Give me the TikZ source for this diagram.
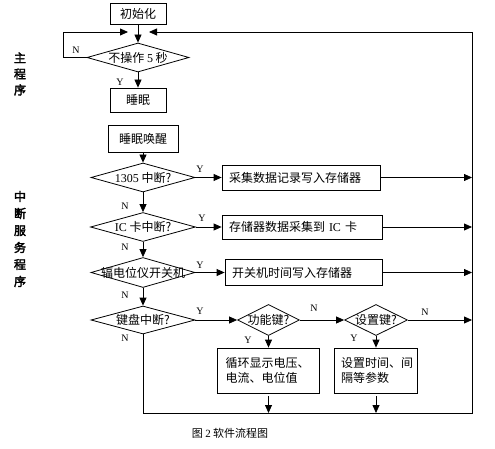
\documentclass[tikz,border=0pt]{standalone}
\usepackage{fontspec}
\setmainfont{Liberation Serif}
\newfontfamily\cjk{Noto Sans CJK SC}
\newfontfamily\cjkb[FakeBold=3]{Noto Sans CJK SC}
\usetikzlibrary{shapes.geometric,arrows.meta}
\newcommand{\dtxt}[1]{\makebox[0pt]{#1}}
\begin{document}
\begin{tikzpicture}[x=1pt,y=-1pt,line width=0.8pt,
  arr/.style={-{Triangle[length=8pt,width=7pt]}},
  box/.style={draw,font=\cjk\fontsize{12}{15}\selectfont,inner xsep=7pt,inner ysep=0pt,align=left},
  dia/.style={draw,diamond,inner sep=0pt,font=\cjk\fontsize{12}{14}\selectfont},
  yn/.style={font=\fontsize{10}{11}\selectfont,inner sep=0pt},
  side/.style={font=\cjkb\fontsize{12}{17}\selectfont,align=center}]
\useasboundingbox (0,0) rectangle (495,449);
% main program
\node[box,minimum width=56pt,minimum height=21pt] (init) at (138,13.5) {初始化};
\node[dia,minimum width=102pt,minimum height=29pt] (idle) at (138,57.5) {\dtxt{不操作 {\rmfamily 5} 秒}};
\node[box,minimum width=56pt,minimum height=24pt] (sleep) at (138,100) {睡眠};
\node[side,font=\cjkb\fontsize{12}{16}\selectfont] (smain) at (20,74) {主\\程\\序};
% interrupt service
\node[box,minimum width=70pt,minimum height=27pt] (wake) at (143,138.5) {睡眠唤醒};
\node[dia,minimum width=104pt,minimum height=29pt] (irq) at (143,177.5) {\dtxt{{\rmfamily 1305} 中断?}};
\node[dia,minimum width=105pt,minimum height=29pt] (card) at (143,227) {\dtxt{{\rmfamily IC} 卡中断?}};
\node[dia,minimum width=104pt,minimum height=30pt] (pwr) at (143,272.5) {\dtxt{辐电位仪开关机}};
\node[dia,minimum width=104pt,minimum height=28pt] (key) at (143,320) {\dtxt{键盘中断?}};
\node[dia,minimum width=62pt,minimum height=31pt] (fkey) at (268.5,320) {\dtxt{功能键?}};
\node[dia,minimum width=63pt,minimum height=31pt] (skey) at (376,320) {\dtxt{设置键?}};
\node[box,text width=144pt,minimum height=25pt] (acq) at (301,177.5) {采集数据记录写入存储器};
\node[box,text width=146pt,minimum height=24pt] (dump) at (302,227) {存储器数据采集到 {\rmfamily IC} 卡};
\node[box,text width=143pt,minimum height=26pt] (log) at (303.5,272.5) {开关机时间写入存储器};
\node[box,text width=86pt,minimum height=45pt,inner xsep=8pt] (disp) at (268.5,370.5) {循环显示电压、\\电流、电位值};
\node[box,text width=70pt,minimum height=45pt,inner xsep=6.5pt] (setp) at (376,370.5) {设置时间、间\\隔等参数};
\node[side] (sirq) at (20,239) {中\\断\\服\\务\\程\\序};
\node[font=\cjk\fontsize{11}{13}\selectfont] (cap) at (230,433) {图 {\rmfamily 2} 软件流程图};
% Y / N
\node[yn] (n0) at (76,50) {N};
\node[yn] (y0) at (120,82) {Y};
\node[yn] (y1) at (200,169) {Y};
\node[yn] (n1) at (125,206) {N};
\node[yn] (y2) at (202,218) {Y};
\node[yn] (n2) at (125,247) {N};
\node[yn] (y3) at (200,265) {Y};
\node[yn] (n3) at (125,295) {N};
\node[yn] (y4) at (200,311) {Y};
\node[yn] (n4) at (125,338) {N};
\node[yn] (n5) at (314,308) {N};
\node[yn] (y5) at (248,340) {Y};
\node[yn] (y6) at (354,338) {Y};
\node[yn] (n6) at (425,312) {N};
% loop points
\coordinate (lp) at (63,32);
\coordinate (jl) at (128,32);
\coordinate (jr) at (149,32);
\coordinate (rt) at (472,32);
\coordinate (rb) at (472,413);
% connectors
\draw[arr] (init) -- (idle);
\draw[arr] (idle) -- (sleep);
\draw[arr] (idle.west) -| (lp) -- (jl);
\draw[arr] (wake) -- (irq);
\draw[arr] (irq) -- (card);
\draw[arr] (card) -- (pwr);
\draw[arr] (pwr) -- (key);
\draw[arr] (irq) -- (acq);
\draw[arr] (card) -- (dump);
\draw[arr] (pwr) -- (log);
\draw[arr] (key) -- (fkey);
\draw[arr] (fkey) -- (skey);
\draw[arr] (fkey) -- (disp);
\draw[arr] (skey) -- (setp);
\draw[arr] (acq) -- (acq -| rt);
\draw[arr] (dump) -- (dump -| rt);
\draw[arr] (log) -- (log -| rt);
\draw[arr] (skey) -- (skey -| rt);
\draw[arr] ([yshift=-3pt]disp.south) -- (disp |- rb);
\draw[arr] ([yshift=-3pt]setp.south) -- (setp |- rb);
\draw[arr] (key) |- (rb) -- (rt) -- (jr);
\end{tikzpicture}
\end{document}
